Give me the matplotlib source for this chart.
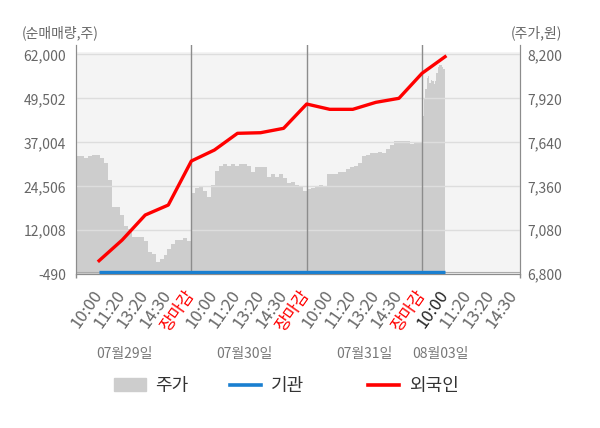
import numpy as np
import matplotlib
matplotlib.use("Agg")
import matplotlib.pyplot as plt
from matplotlib.patches import Patch
from matplotlib.lines import Line2D
from matplotlib.transforms import blended_transform_factory

plt.rcParams['font.family'] = ['Noto Sans CJK KR', 'DejaVu Sans']

# 주가 (원), sampled evenly through each session
price_0729 = [7550, 7550, 7540, 7550, 7560, 7560, 7540, 7510, 7400, 7230,
              7230, 7180, 7110, 7090, 7040, 7040, 7040, 7010, 6940, 6930,
              6880, 6900, 6920, 6960, 6990, 7020, 7020, 7030, 7010]
price_0730 = [7320, 7350, 7360, 7330, 7290, 7370, 7460, 7490, 7500, 7490,
              7500, 7490, 7500, 7500, 7490, 7450, 7480, 7480, 7480, 7420,
              7440, 7420, 7440, 7410, 7380, 7390, 7370, 7360, 7330]
price_0731 = [7340, 7350, 7360, 7370, 7360, 7440, 7440, 7440, 7450, 7450,
              7470, 7480, 7490, 7510, 7550, 7560, 7570, 7570, 7580, 7570,
              7600, 7620, 7650, 7650, 7650, 7650, 7630, 7640, 7640]
price_0803 = [7810, 7920, 7980, 8050, 8060, 8020, 8040, 8030, 8010, 8030,
              8080, 8120, 8130, 8130, 8120, 8110]
price_days = [price_0729, price_0730, price_0731, price_0803]
# slot range covered by each session (5 slots per full day)
day_spans = [(0, 5), (5, 10), (10, 15), (15.02, 15.98)]

# 순매매량 (주) at each label slot
flow_slots = list(range(1, 17))
foreign = [3350, 9230, 16340, 19180, 31690, 34820, 39570, 39740, 40990,
           47900, 46390, 46390, 48380, 49520, 56630, 61350]
institution = [0] * 16

slot_labels = ['10:00', '11:20', '13:20', '14:30', '장마감'] * 3 + \
              ['10:00', '11:20', '13:20', '14:30']
dates = ['07월29일', '07월30일', '07월31일', '08월03일']
date_pos = [2.1, 7.3, 12.5, 15.8]

left_ticks = [-490, 12008, 24506, 37004, 49502, 62000]
right_ticks = [6800, 7080, 7360, 7640, 7920, 8200]

fig = plt.figure(figsize=(6, 4.28), dpi=100)
ax = fig.add_axes([0.1267, 0.3593, 0.74, 0.5355])
ax2 = ax.twinx()
ax.set_zorder(ax2.get_zorder() + 1)
ax.patch.set_visible(False)
ax2.patch.set_facecolor('white')

xmax = 19.25
ax.set_xlim(0, xmax)
ax.set_ylim(-490, 64672)
ax2.set_ylim(6800, 8260)

# plot background (starts just above the top tick)
ax2.axhspan(6800, 8217, color='#f4f4f4', zorder=0, lw=0)

for vals, (s, e) in zip(price_days, day_spans):
    xs = np.linspace(s, e, len(vals) + 1)
    ys = list(vals) + [vals[-1]]
    ax2.fill_between(xs, 6800, ys, step='post', color='#cdcdcd', lw=0, zorder=1)

ax.set_axisbelow(True)
ax.grid(axis='y', color='#dddddd', lw=1)
for d in (5, 10, 15):
    ax.axvline(d, color='#8c8c8c', lw=1, zorder=1.5)
ax.axhline(0, color='#aaaaaa', lw=0.8, zorder=1.5)

ax.plot(flow_slots, institution, color='#1a7fd0', lw=2.4, zorder=3,
        solid_capstyle='butt')
ax.plot(flow_slots, foreign, color='#ff0000', lw=2.4, zorder=4)

ax.set_yticks(left_ticks)
ax.set_yticklabels([f'{v:,}' for v in left_ticks])
ax2.set_yticks(right_ticks)
ax2.set_yticklabels([f'{v:,}' for v in right_ticks])
ax.tick_params(axis='y', length=0, pad=7, labelsize=10, labelcolor='#666666')
ax2.tick_params(axis='y', length=0, pad=5, labelsize=10, labelcolor='#666666')

ax.set_xticks(range(1, 20))
ax.set_xticklabels(slot_labels)
ax.set_xticks([0, 5, 10, 15, xmax], minor=True)
ax.tick_params(axis='x', which='major', length=0, pad=12.5, labelsize=12,
               labelcolor='#666666')
ax.tick_params(axis='x', which='minor', length=3, color='#8c8c8c', width=1)
for i, lab in enumerate(ax.get_xticklabels()):
    lab.set_rotation(55)
    lab.set_rotation_mode('anchor')
    lab.set_ha('right')
    lab.set_va('center')
    if lab.get_text() == '장마감':
        lab.set_color('red')
    elif i == 15:
        lab.set_color('#222222')

for a in (ax, ax2):
    a.spines['top'].set_visible(False)
    for side in ('left', 'right', 'bottom'):
        a.spines[side].set_color('#8c8c8c')

trans = blended_transform_factory(ax.transData, fig.transFigure)
for d, p in zip(dates, date_pos):
    fig.text(p, 0.1729, d, transform=trans, ha='center', va='center',
             fontsize=10, color='#777777')

fig.text(0.037, 0.923, '(순매매량,주)', ha='left', va='center', fontsize=10,
         color='#666666')
fig.text(0.937, 0.923, '(주가,원)', ha='right', va='center', fontsize=10,
         color='#666666')

handles = [Patch(color='#cdcdcd', label='주가'),
           Line2D([], [], color='#1a7fd0', lw=2.6, label='기관'),
           Line2D([], [], color='#ff0000', lw=2.6, label='외국인')]
for h, x0 in zip(handles, [0.19, 0.383, 0.613]):
    fig.legend(handles=[h], loc='center left', bbox_to_anchor=(x0, 0.098),
               frameon=False, fontsize=13, handlelength=1.75,
               handletextpad=0.55, borderpad=0, borderaxespad=0,
               labelcolor='#333333')

fig.savefig('out.png', dpi=100)
